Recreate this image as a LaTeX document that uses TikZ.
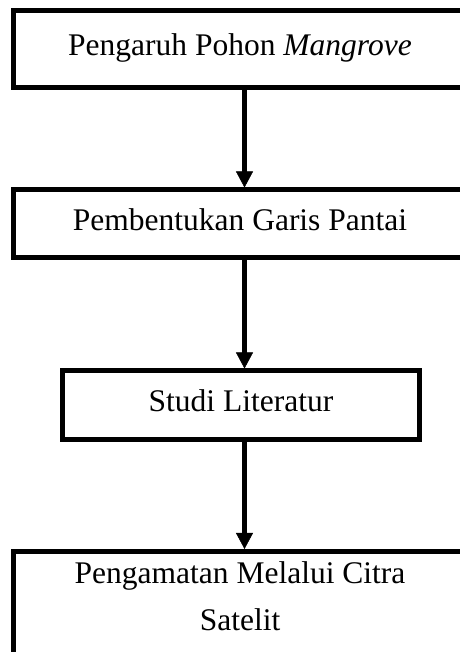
\documentclass[tikz,border=0pt]{standalone}
\usepackage{fontspec}
\setmainfont{Liberation Serif}
\usetikzlibrary{arrows.meta}

\tikzset{
  box/.style={draw,line width=5pt,rectangle,text height=21pt,text depth=8pt,
    font=\fontsize{31.5}{47}\selectfont},
  flow/.style={line width=4.5pt,-{Triangle[length=16pt,width=17pt,line width=0.5pt]}}
}

\begin{document}
\begin{tikzpicture}[x=1pt,y=1pt]
   \useasboundingbox (0,0) rectangle (459,652);
   \node at (240,603) [box,minimum width=453pt,minimum height=77pt] (p1) {Pengaruh Pohon \textit{Mangrove}};
   \node at (240,428.25) [box,minimum width=453pt,minimum height=67.5pt] (p2) {Pembentukan Garis Pantai};
   \node at (241,246.75) [box,minimum width=357pt,minimum height=68.5pt] (p3) {Studi Literatur};
   \node at (240,103) [box,anchor=north,minimum width=453pt,minimum height=130pt] (p4) {};
   \node at ([yshift=-9pt]p4.north) [anchor=north,align=center,font=\fontsize{31.5}{47}\selectfont] (t4) {Pengamatan Melalui Citra\\Satelit};
   \draw[flow] ([xshift=4.5pt]p1.south) -- ([xshift=4.5pt]p2.north);
   \draw[flow] ([xshift=4.5pt]p2.south) -- ([xshift=3.5pt]p3.north);
   \draw[flow] ([xshift=3.5pt]p3.south) -- ([xshift=4.5pt]p4.north);
\end{tikzpicture}
\end{document}
